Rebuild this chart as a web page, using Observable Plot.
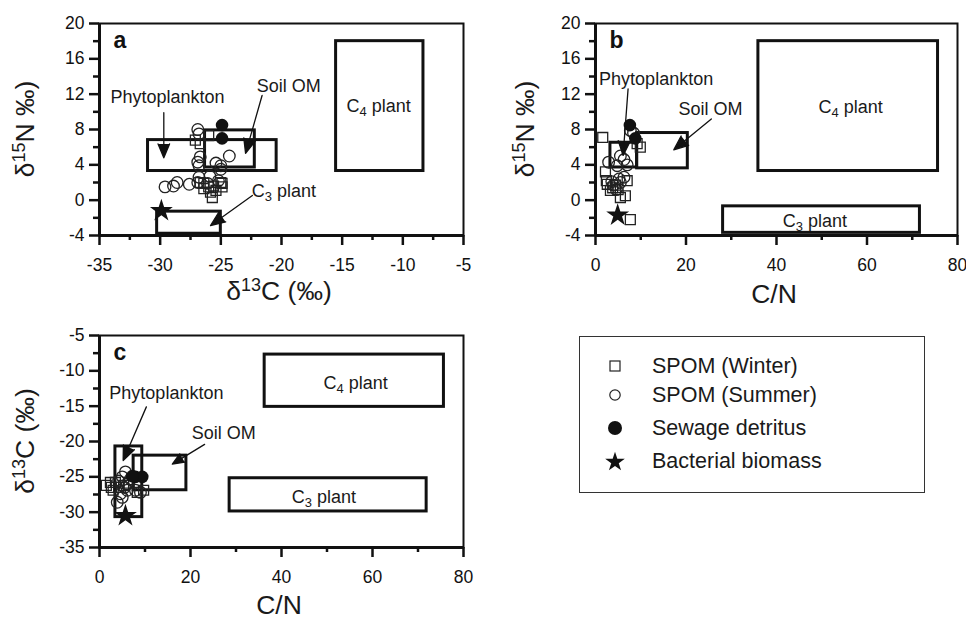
<!DOCTYPE html>
<html><head><meta charset="utf-8">
<script src="https://cdn.jsdelivr.net/npm/d3@7"></script>
<script src="https://cdn.jsdelivr.net/npm/@observablehq/plot@0.6"></script>
<style>
body{margin:0;background:#fff;font-family:"Liberation Sans",Arial,sans-serif;}
#wrap{position:relative;width:966px;height:619px;overflow:hidden;background:#fff;}
.panel{position:absolute;}
#legend{position:absolute;left:579px;top:336px;width:346px;height:157px;border:1.5px solid #333;box-sizing:border-box;}
.lrow{position:absolute;left:0;height:30px;display:flex;align-items:center;font-size:21.5px;color:#1a1a1a;}
.lrow svg{position:absolute;left:23px;top:3px;}
.lrow span{position:absolute;left:72px;white-space:nowrap;}
</style></head><body><div id="wrap"></div>
<script>
// ---------- data ----------
// Panel a: delta13C vs delta15N
const winterA = [[-27.1,6.8],[-26.7,6.4],[-26.0,7.3],[-26.7,2.0],[-26.4,1.9],[-26.0,1.5],[-25.85,0.9],[-25.7,0.3],[-25.4,1.1],[-24.9,1.9],[-24.9,1.5],[-26.4,1.3],[-25.6,1.6],[-25.0,2.0]];
const summerA = [[-26.9,8.0],[-26.8,7.5],[-26.9,4.3],[-26.8,3.9],[-26.7,4.9],[-25.4,4.2],[-25.0,3.9],[-24.3,5.0],[-26.8,2.6],[-26.9,2.0],[-27.6,1.8],[-28.6,2.0],[-28.9,1.6],[-29.6,1.5],[-26.1,1.9],[-25.2,2.2],[-25.0,3.5],[-25.9,2.7]];
const sewageA = [[-24.9,8.5],[-24.9,7.0]];
const bacteriaA = [[-29.9,-1.2]];
// Panel b: C/N vs delta15N
const winterB = [[1.6,7.1],[2.2,3.2],[2.4,2.2],[2.6,1.8],[3.3,1.1],[4.4,1.7],[5.5,0.3],[6.6,0.5],[7.7,-2.2],[7.0,2.2],[9.9,6.0],[9.2,6.4],[3.8,1.4],[5.0,1.2]];
const summerB = [[7.7,7.9],[8.4,7.6],[5.5,5.0],[6.3,4.6],[2.9,4.3],[4.8,3.9],[7.0,4.0],[6.3,2.6],[4.0,1.7],[5.5,2.0],[4.6,1.2],[5.2,2.4],[3.6,2.1]];
const sewageB = [[7.6,8.5],[8.8,7.0]];
const bacteriaB = [[4.9,-1.7]];
// Panel c: C/N vs delta13C
const winterC = [[1.5,-26.2],[2.4,-25.8],[2.6,-26.5],[3.5,-25.8],[9.7,-26.9],[8.3,-27.2],[5.3,-26.2],[4.2,-26.5],[3.0,-26.9],[6.5,-25.9]];
const summerC = [[5.7,-24.3],[5.0,-25.0],[6.1,-26.0],[4.6,-27.4],[3.9,-28.6],[5.0,-27.9],[6.1,-26.9],[9.0,-27.2],[7.9,-26.9],[4.2,-25.6],[6.8,-25.3],[5.5,-26.5]];
const sewageC = [[7.9,-25.0],[9.4,-25.0],[7.2,-24.9]];
const bacteriaC = [[5.7,-30.5]];

// Source ranges (boxes): [name, x1, x2, y1, y2]
const boxesA = [["Phytoplankton",-31,-20.4,3.3,6.8],["Soil OM",-26.3,-22.2,3.7,7.9],["C3 plant",-30.25,-25,-3.8,-1.3],["C4 plant",-15.5,-8.3,3.3,18]];
const boxesB = [["Phytoplankton",3.3,9.2,3.7,6.5],["Soil OM",9.2,20.4,3.6,7.6],["C3 plant",28.2,71.7,-3.7,-0.7],["C4 plant",36,75.7,3.3,18]];
const boxesC = [["Phytoplankton",3.5,9.4,-30.7,-20.7],["Soil OM",7.5,19.1,-26.9,-22.0],["C3 plant",28.6,71.9,-29.9,-25.2],["C4 plant",36.3,75.7,-15.1,-7.7]];

// Annotation labels: [text, x, y]
const labelsA = [["Phytoplankton",-29.4,11.6],["Soil OM",-19.4,12.9],["C3 plant",-19.8,1.0],["C4 plant",-12.0,10.6]];
const labelsB = [["Phytoplankton",13.4,13.7],["Soil OM",25.4,10.3],["C4 plant",56.4,10.5],["C3 plant",48.5,-2.4]];
const labelsC = [["Phytoplankton",14.7,-13.1],["Soil OM",27.3,-18.9],["C4 plant",56.3,-11.8],["C3 plant",49.3,-27.9]];
// Arrows: [x1, y1, x2, y2]
const arrowsA = [[-29.7,9.9,-29.7,4.8],[-21.6,11.85,-22.96,5.3],[-22.4,0.53,-25.85,-2.87]];
const arrowsB = [[7.2,12.6,6.1,5.06],[25.6,9.2,17.3,5.7]];
const arrowsC = [[10.3,-15.1,5.2,-22.7],[23.1,-20.4,16.0,-23.2]];

// Axes
const d13Domain = [-35,-5], d15Domain = [-4,20], cnDomain = [0,80];
const d13Ticks = [-35,-30,-25,-20,-15,-10,-5], d13Minor = [-32.5,-27.5,-22.5,-17.5,-12.5,-7.5];
const d15Ticks = [-4,0,4,8,12,16,20], d15Minor = [-2,2,6,10,14,18];
const cnTicks = [0,20,40,60,80], cnMinor = [10,30,50,70];

const legendLabels = ["SPOM (Winter)","SPOM (Summer)","Sewage detritus","Bacterial biomass"];

// ---------- drawing ----------
const INK = "#111";
function panel(o){
  const P = (a) => a.map(d => ({x:d[0], y:d[1]}));
  const svg = Plot.plot({
    width:o.width, height:o.height,
    marginLeft:o.ml, marginRight:o.mr, marginTop:o.mt, marginBottom:o.mb,
    style:{fontFamily:'"Liberation Sans", Arial, sans-serif', color:INK, background:"#fff"},
    x:{domain:o.xDomain, label:null},
    y:{domain:o.yDomain, label:null},
    marks:[
      Plot.rect(o.boxes.map(b=>({x1:b[1],x2:b[2],y1:b[3],y2:b[4]})), {x1:"x1",x2:"x2",y1:"y1",y2:"y2",fill:"none",stroke:INK,strokeWidth:3}),
      Plot.dot(P(o.winter), {x:"x",y:"y",symbol:"square",r:5.6,fill:"none",stroke:"#222",strokeWidth:1.3}),
      Plot.dot(P(o.summer), {x:"x",y:"y",symbol:"circle",r:5.8,fill:"none",stroke:"#222",strokeWidth:1.3}),
      Plot.dot(P(o.sewage), {x:"x",y:"y",symbol:"circle",r:6.3,fill:INK,stroke:"none"}),
      Plot.dot(P(o.bacteria), {x:"x",y:"y",symbol:"star",r:7.2,fill:INK,stroke:"none"}),
      Plot.arrow(o.arrows.map(a=>({x1:a[0],y1:a[1],x2:a[2],y2:a[3]})), {x1:"x1",y1:"y1",x2:"x2",y2:"y2",stroke:INK,strokeWidth:1.3,headLength:18,headAngle:45}),
      Plot.text(o.labels.map(l=>({t:l[0],x:l[1],y:l[2]})), {x:"x",y:"y",text:"t",fontSize:18,fill:"#1a1a1a"}),
      Plot.text([o.letter], {frameAnchor:"top-left",dx:14,dy:8,textAnchor:"start",lineAnchor:"top",fontSize:23,fontWeight:"bold",fill:INK}),
      Plot.frame({stroke:INK,strokeWidth:2}),
      Plot.ruleX([o.xDomain[0]], {stroke:INK,strokeWidth:3}),
      Plot.ruleY([o.yDomain[0]], {stroke:INK,strokeWidth:3}),
      Plot.axisX({ticks:o.xTicks,tickSize:10,tickPadding:5,tickFormat:d=>String(d),fontSize:17.5,strokeWidth:2.5,stroke:INK,label:null,fill:"#111"}),
      Plot.axisX({ticks:o.xMinor,tickSize:5,tickFormat:()=>"",strokeWidth:2.5,stroke:INK,label:null}),
      Plot.axisY({ticks:o.yTicks,tickSize:10,tickPadding:5,tickFormat:d=>String(d),fontSize:17.5,strokeWidth:2.5,stroke:INK,label:null,fill:"#111"}),
      Plot.axisY({ticks:o.yMinor,tickSize:6,tickFormat:()=>"",strokeWidth:2.5,stroke:INK,label:null})
    ]
  });
  const s = d3.select(svg);
  // tick label placement (applied directly so it holds across Plot 0.6.x)
  s.selectAll('g[aria-label="x-axis tick label"] text').attr("dy", 8);
  s.selectAll('g[aria-label="x-axis tick label"], g[aria-label="y-axis tick label"]').attr("font-size", 17.5).attr("fill", "#111");
  // filled arrowheads
  s.selectAll('g[aria-label="arrow"] path').attr("fill", INK).attr("stroke-linejoin","miter");
  // subscripts in "C3 plant"/"C4 plant"
  s.selectAll("text").each(function(){
    const t = this.textContent, m = /^C(\d) plant$/.exec(t);
    if (m && this.children.length === 0) {
      const el = d3.select(this); el.text("");
      el.append("tspan").text("C");
      el.append("tspan").attr("font-size","0.72em").attr("dy","0.28em").text(m[1]);
      el.append("tspan").attr("dy","-0.2em").text(" plant");
    }
  });
  // axis titles with superscripts
  const addTitle = (parts, x, y, rotate) => {
    const t = s.append("text").attr("font-size",26.5).attr("fill","#1a1a1a").attr("text-anchor","middle")
      .attr("font-family",'"Liberation Sans", Arial, sans-serif')
      .attr("transform", `translate(${x},${y})` + (rotate ? " rotate(-90)" : ""));
    parts.forEach(p => {
      if (p.sup) t.append("tspan").attr("font-size","0.68em").attr("dy","-0.5em").text(p.sup);
      else t.append("tspan").attr("dy", p.after ? "0.34em" : null).text(p.t);
    });
  };
  addTitle(o.xTitle, o.xTitlePos[0], o.xTitlePos[1], false);
  addTitle(o.yTitle, o.yTitlePos[0], o.yTitlePos[1], true);
  const div = document.createElement("div");
  div.className = "panel"; div.style.left = o.left+"px"; div.style.top = o.top+"px";
  div.appendChild(svg);
  document.getElementById("wrap").appendChild(div);
}

const d13Title = [{t:"δ"},{sup:"13"},{t:"C (‰)",after:true}];
const d15Title = [{t:"δ"},{sup:"15"},{t:"N ‰)",after:true}];
const cnTitle = [{t:"C/N"}];

panel({left:0,top:0,width:483,height:316,ml:99,mr:20,mt:23,mb:81,
  xDomain:d13Domain,yDomain:d15Domain,xTicks:d13Ticks,xMinor:d13Minor,yTicks:d15Ticks,yMinor:d15Minor,
  boxes:boxesA,winter:winterA,summer:summerA,sewage:sewageA,bacteria:bacteriaA,labels:labelsA,arrows:arrowsA,letter:"a",
  xTitle:d13Title,xTitlePos:[279,300],yTitle:d15Title,yTitlePos:[34,129]});
panel({left:483,top:0,width:483,height:318,ml:112,mr:9,mt:23,mb:83,
  xDomain:cnDomain,yDomain:d15Domain,xTicks:cnTicks,xMinor:cnMinor,yTicks:d15Ticks,yMinor:d15Minor,
  boxes:boxesB,winter:winterB,summer:summerB,sewage:sewageB,bacteria:bacteriaB,labels:labelsB,arrows:arrowsB,letter:"b",
  xTitle:cnTitle,xTitlePos:[291,303],yTitle:d15Title,yTitlePos:[51,129]});
panel({left:0,top:310,width:483,height:309,ml:99,mr:20,mt:25,mb:72,
  xDomain:cnDomain,yDomain:d13Domain,xTicks:cnTicks,xMinor:cnMinor,yTicks:d13Ticks,yMinor:d13Minor,
  boxes:boxesC,winter:winterC,summer:summerC,sewage:sewageC,bacteria:bacteriaC,labels:labelsC,arrows:arrowsC,letter:"c",
  xTitle:cnTitle,xTitlePos:[279,304],yTitle:d13Title,yTitlePos:[34,131]});

// legend
const leg = document.createElement("div"); leg.id = "legend";
const symbols = [
  '<rect x="7" y="7" width="10" height="10" fill="none" stroke="#222" stroke-width="1.2"/>',
  '<circle cx="12" cy="12" r="5.2" fill="none" stroke="#222" stroke-width="1.2"/>',
  '<circle cx="12" cy="12" r="7" fill="#111"/>',
  '<path d="' + d3.symbol(d3.symbolStar, 120)() + '" transform="translate(12,13)" fill="#111"/>'
];
const rowTops = [14, 43, 76, 109];
legendLabels.forEach((lab,i)=>{
  const r = document.createElement("div"); r.className="lrow"; r.style.top = rowTops[i]+"px";
  r.innerHTML = `<svg width="24" height="24">${symbols[i]}</svg><span>${lab}</span>`;
  leg.appendChild(r);
});
document.getElementById("wrap").appendChild(leg);
</script>
</body></html>
